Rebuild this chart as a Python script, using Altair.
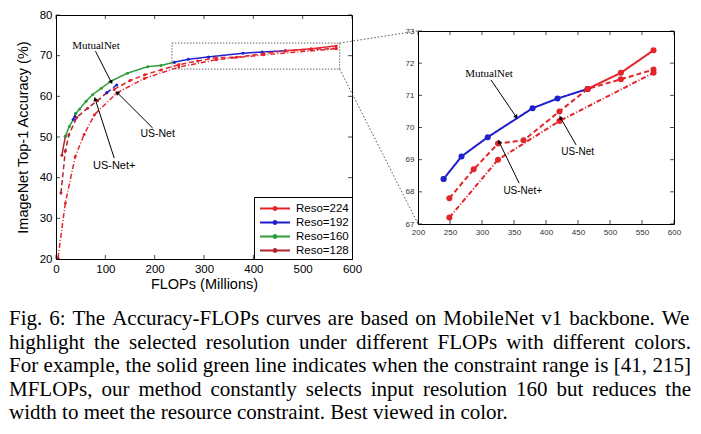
import altair as alt
import pandas as pd
import numpy as np

# ---------------- data ----------------
RESO_NAMES = ["Reso=224", "Reso=192", "Reso=160", "Reso=128"]
RESO_COLORS = ["#e3242b", "#1f1fcf", "#2e9c3a", "#b0262e"]
METHODS = ["MutualNet", "US-Net+", "US-Net"]

# MutualNet (solid), split into resolution segments
MN_RESO = [128, 160, 192, 160, 192, 224]
MN_FLOPS = [[12, 19], [19, 27, 35], [35, 38, 40],
            [40, 48, 61, 74, 92, 111, 145, 186, 213, 240],
            [240, 268, 309, 379, 418, 465], [465, 517, 568]]
MN_ACC = [[45.5, 50.2], [50.2, 52.6, 54.3], [54.3, 55.0, 55.8],
          [55.8, 56.9, 58.8, 60.4, 62.0, 63.7, 65.7, 67.3, 67.6, 68.4],
          [68.4, 69.1, 69.7, 70.6, 70.9, 71.2], [71.2, 71.7, 72.4]]

# US-Net+ (dashed)
USP_RESO = [128, 192, 224]
USP_FLOPS = [[10, 19, 26, 42, 64, 84, 103], [103, 123],
             [118, 150, 180, 213, 249, 287, 325, 365, 421, 465, 517, 568]]
USP_ACC = [[36.2, 46.6, 50.5, 54.8, 57.1, 58.9, 60.9], [60.9, 62.8],
           [61.7, 63.9, 65.3, 66.5, 67.8, 68.7, 69.5, 69.6, 70.5, 71.2, 71.5, 71.8]]

# US-Net (dash-dot)
US_RESO = [224]
US_FLOPS = [[4, 19, 39, 57, 78, 123, 179, 249, 325, 421, 568]]
US_ACC = [[20.3, 33.8, 45.2, 50.6, 55.5, 60.8, 64.4, 67.2, 69.0, 70.2, 71.7]]

LEFT_X_TICKS = [0, 100, 200, 300, 400, 500, 600]
LEFT_Y_TICKS = [20, 30, 40, 50, 60, 70, 80]
RIGHT_X_TICKS = [200, 250, 300, 350, 400, 450, 500, 550, 600]
RIGHT_Y_TICKS = [67, 68, 69, 70, 71, 72, 73]

# zoom box drawn on the left panel, and connector lines toward the right panel
BOX_X = [235]; BOX_X2 = [575]; BOX_Y = [66.7]; BOX_Y2 = [73.1]
CONN_X = [575, 575]; CONN_Y = [73.1, 66.7]; CONN_X2 = [734, 734]; CONN_Y2 = [76.1, 28.6]

# annotations: label, text position, arrow start, arrow end
LEFT_LABELS = ["MutualNet", "US-Net", "US-Net+"]
LEFT_LX = [81, 206, 118]; LEFT_LY = [72.4, 50.7, 42.8]
LEFT_AX = [80, 196, 118]; LEFT_AY = [71.1, 52.2, 44.8]
LEFT_AX2 = [111.5, 125, 79.7]; LEFT_AY2 = [63.6, 60.8, 59.2]

RIGHT_LABELS = ["MutualNet", "US-Net", "US-Net+"]
RIGHT_LX = [311, 449.5, 363.6]; RIGHT_LY = [71.66, 69.24, 68.03]
RIGHT_AX = [314, 447, 358]; RIGHT_AY = [71.48, 69.46, 68.27]
RIGHT_AX2 = [353, 423, 327]; RIGHT_AY2 = [70.34, 70.29, 69.54]
LABEL_FONTS = ["Liberation Serif", "Liberation Sans", "Liberation Sans"]

CAPTION = [
    "Fig. 6: The Accuracy-FLOPs curves are based on MobileNet v1 backbone. We",
    "highlight the selected resolution under different FLOPs with different colors.",
    "For example, the solid green line indicates when the constraint range is [41, 215]",
    "MFLOPs, our method constantly selects input resolution 160 but reduces the",
    "width to meet the resource constraint. Best viewed in color.",
]

# ---------------- tables ----------------
rows = []
for method, resos, fls, acs in [("MutualNet", MN_RESO, MN_FLOPS, MN_ACC),
                                ("US-Net+", USP_RESO, USP_FLOPS, USP_ACC),
                                ("US-Net", US_RESO, US_FLOPS, US_ACC)]:
    for i, (r, f, a) in enumerate(zip(resos, fls, acs)):
        for xv, yv in zip(f, a):
            rows.append(dict(method=method, seg=f"{method}-{i}", reso=f"Reso={r}",
                             flops=xv, acc=yv))
df = pd.DataFrame(rows)

W1, H1 = 296, 244
W2, H2 = 256, 193


def arrow_table(lab, lx, ly, ax, ay, ax2, ay2, dom_x, dom_y, w, h):
    sx = w / (dom_x[1] - dom_x[0])
    sy = h / (dom_y[1] - dom_y[0])
    t = pd.DataFrame(dict(label=lab, lx=lx, ly=ly, ax=ax, ay=ay, ax2=ax2, ay2=ay2,
                          font=LABEL_FONTS))
    dx = (t.ax2 - t.ax) * sx
    dy = -(t.ay2 - t.ay) * sy
    t["ang"] = np.degrees(np.arctan2(dx, -dy)) % 360
    return t


LEGEND_SYMBOL = "M-2,0H2M-0.2,0A0.2,0.2,0,1,1,0.2,0A0.2,0.2,0,1,1,-0.2,0"


def panel(data, dom_x, dom_y, xt, yt, w, h, xtitle, ytitle, lab_size, lab_color,
          line_w, pt_size, dashes, show_legend, ann, txt_sizes, tick_len, extra=None):
    xs = alt.Scale(domain=dom_x, nice=False, zero=False)
    ys = alt.Scale(domain=dom_y, nice=False, zero=False)
    xax = alt.Axis(values=xt, ticks=False, grid=False, domain=False, labelPadding=4,
                   labelFont="Liberation Sans", labelFontSize=lab_size, labelColor=lab_color,
                   title=xtitle, titleFont="Liberation Sans", titleFontSize=14.5,
                   titleFontWeight="normal", titlePadding=3, labelFlush=False,
                   labelOverlap=False)
    yax = alt.Axis(values=yt, ticks=False, grid=False, domain=False, labelPadding=4,
                   labelFont="Liberation Sans", labelFontSize=lab_size, labelColor=lab_color,
                   title=ytitle, titleFont="Liberation Sans", titleFontSize=14.5,
                   titleFontWeight="normal", titlePadding=9, labelFlush=False,
                   labelOverlap=False)

    def X(f):
        return alt.X(f, scale=xs, axis=xax, title=xtitle)

    def Y(f):
        return alt.Y(f, scale=ys, axis=yax, title=ytitle)

    color_scale = alt.Scale(domain=RESO_NAMES, range=RESO_COLORS)
    legend = alt.Legend(title=None, orient="bottom-right", offset=0,
                        symbolType=LEGEND_SYMBOL, symbolSize=225, symbolStrokeWidth=2,
                        symbolOffset=9.5, labelOffset=12.5,
                        labelFont="Liberation Sans", labelFontSize=11.5,
                        strokeColor="black", fillColor="white",
                        padding=3, rowPadding=0) if show_legend else None
    base = alt.Chart(data)
    lines = base.mark_line(strokeWidth=line_w).encode(
        x=X("flops:Q"), y=Y("acc:Q"),
        color=alt.Color("reso:N", scale=color_scale, legend=legend),
        strokeDash=alt.StrokeDash("method:N", scale=alt.Scale(domain=METHODS, range=dashes),
                                  legend=None),
        detail="seg:N",
    )
    pts = base.mark_circle(size=pt_size, opacity=1).encode(
        x=X("flops:Q"), y=Y("acc:Q"),
        color=alt.Color("reso:N", scale=color_scale, legend=legend),
    )
    tx = pd.DataFrame(dict(v=xt))
    ty = pd.DataFrame(dict(v=yt))
    tick_style = dict(color="black", thickness=1, size=tick_len)
    ticks = [
        alt.Chart(tx).mark_tick(orient="vertical", yOffset=-tick_len / 2, **tick_style)
        .encode(x=X("v:Q"), y=alt.YDatum(dom_y[0], scale=ys, axis=yax, title=ytitle)),
        alt.Chart(tx).mark_tick(orient="vertical", yOffset=tick_len / 2, **tick_style)
        .encode(x=X("v:Q"), y=alt.YDatum(dom_y[1], scale=ys, axis=yax, title=ytitle)),
        alt.Chart(ty).mark_tick(orient="horizontal", xOffset=tick_len / 2, **tick_style)
        .encode(y=Y("v:Q"), x=alt.XDatum(dom_x[0], scale=xs, axis=xax, title=xtitle)),
        alt.Chart(ty).mark_tick(orient="horizontal", xOffset=-tick_len / 2, **tick_style)
        .encode(y=Y("v:Q"), x=alt.XDatum(dom_x[1], scale=xs, axis=xax, title=xtitle)),
    ]
    arrows = alt.Chart(ann).mark_rule(color="black", strokeWidth=1).encode(
        x=X("ax:Q"), y=Y("ay:Q"), x2="ax2:Q", y2="ay2:Q")
    heads = alt.Chart(ann).mark_point(shape="triangle", filled=True, color="black",
                                      size=22, opacity=1).encode(
        x=X("ax2:Q"), y=Y("ay2:Q"), angle=alt.Angle("ang:Q", scale=None))
    texts = []
    for i in range(len(ann)):
        texts.append(alt.Chart(ann.iloc[[i]]).mark_text(
            font=ann.font.iloc[i], fontSize=txt_sizes[i], color="black",
            align="center", baseline="middle").encode(x=X("lx:Q"), y=Y("ly:Q"),
                                                      text="label:N"))
    layers = [lines, pts, arrows, heads] + texts + ticks
    if extra is not None:
        box_df, conn_df = extra
        layers.append(alt.Chart(box_df).mark_rect(
            fill="transparent", stroke="#666", strokeWidth=1, strokeDash=[1.5, 1.5]).encode(
            x=X("x:Q"), x2="x2:Q", y=Y("y:Q"), y2="y2:Q"))
        layers.append(alt.Chart(conn_df).mark_rule(
            clip=False, color="#555", strokeWidth=1, strokeDash=[1.5, 2]).encode(
            x=X("x:Q"), y=Y("y:Q"), x2="x2:Q", y2="y2:Q"))
    return layers


ann_left = arrow_table(LEFT_LABELS, LEFT_LX, LEFT_LY, LEFT_AX, LEFT_AY, LEFT_AX2, LEFT_AY2,
                       [0, 600], [20, 80], W1, H1)
ann_right = arrow_table(RIGHT_LABELS, RIGHT_LX, RIGHT_LY, RIGHT_AX, RIGHT_AY, RIGHT_AX2,
                        RIGHT_AY2, [200, 600], [67, 73], W2, H2)

box_df = pd.DataFrame(dict(x=BOX_X, x2=BOX_X2, y=BOX_Y, y2=BOX_Y2))
conn_df = pd.DataFrame(dict(x=CONN_X, y=CONN_Y, x2=CONN_X2, y2=CONN_Y2))

left_layers = panel(df, [0, 600], [20, 80], LEFT_X_TICKS, LEFT_Y_TICKS, W1, H1,
                    "FLOPs (Millions)", "ImageNet Top-1 Accuracy (%)", 11.5, "black",
                    1.5, 9, [[1, 0], [5, 3], [5, 2, 1, 2]], True, ann_left,
                    [11, 10.5, 11], 4, extra=(box_df, conn_df))

# ---------------- caption (justified with Times metrics) ----------------
TIMES_W = {" ": 250, ",": 250, ".": 250, ":": 278, "-": 333, "[": 333, "]": 333,
           "(": 333, ")": 333}
TIMES_W.update(dict(zip("0123456789", [500] * 10)))
TIMES_W.update(dict(zip("ABCDEFGHIJKLMNOPQRSTUVWXYZ",
                        [722, 667, 667, 722, 611, 556, 722, 722, 333, 389, 722, 611, 889,
                         722, 722, 556, 722, 667, 556, 611, 722, 722, 944, 722, 722, 611])))
TIMES_W.update(dict(zip("abcdefghijklmnopqrstuvwxyz",
                        [444, 500, 444, 500, 444, 333, 500, 500, 278, 278, 500, 278, 778,
                         500, 500, 500, 500, 333, 389, 278, 500, 500, 722, 500, 500, 444])))
CAP_FS = 21
CAP_LINE_W = 682
CAP_LEFT = 47           # caption starts this many px left of the left plot's origin
CAP_LINE_H = 23.5
CAP_FIRST = 310         # first baseline, px below the left plot's top edge

wrows = []
for li, line in enumerate(CAPTION):
    words = line.split(" ")
    ws = [sum(TIMES_W.get(c, 500) for c in wd) * CAP_FS / 1000 for wd in words]
    if li < len(CAPTION) - 1:
        gap = (CAP_LINE_W - sum(ws)) / (len(words) - 1)
    else:
        gap = 250 * CAP_FS / 1000
    xpos = 0.0
    for wd, wv in zip(words, ws):
        wrows.append(dict(line=li, word=wd, xpos=xpos))
        xpos += wv + gap
cap_df = pd.DataFrame(wrows)

caption = alt.Chart(cap_df).mark_text(
    font="Liberation Serif", fontSize=CAP_FS, align="left", baseline="alphabetic",
    color="black", clip=False).encode(
    x=alt.X("xpos:Q", axis=None,
            scale=alt.Scale(domain=[CAP_LEFT, CAP_LEFT + W1], nice=False, zero=False)),
    y=alt.Y("line:Q", axis=None,
            scale=alt.Scale(domain=[-CAP_FIRST / CAP_LINE_H, (H1 - CAP_FIRST) / CAP_LINE_H],
                            reverse=True, nice=False, zero=False)),
    text="word:N",
)

left_inner = alt.layer(*left_layers)
left = alt.layer(left_inner, caption).resolve_scale(
    x="independent", y="independent").properties(
    width=W1, height=H1, view=alt.ViewBackground(stroke="black", strokeWidth=1))

df_r = df[df.flops >= 235]
right_layers = panel(df_r, [200, 600], [67, 73], RIGHT_X_TICKS, RIGHT_Y_TICKS, W2, H2,
                     None, None, 8, "#333", 2, 36, [[1, 0], [7, 4], [7, 3, 2, 3]], False,
                     ann_right, [11, 10, 10], 4)
right = alt.layer(*right_layers).properties(
    width=W2, height=H2, view=alt.ViewBackground(stroke="black", strokeWidth=1))

spacer = alt.Chart(pd.DataFrame(dict(v=[0]))).mark_point(opacity=0).encode(
    x=alt.X("v:Q", axis=None), y=alt.Y("v:Q", axis=None)).properties(
    width=W2, height=16, view=alt.ViewBackground(stroke="transparent"))

right_col = alt.vconcat(spacer, right, spacing=0, bounds="flush")

chart = alt.hconcat(left, right_col, spacing=66, bounds="flush", padding=0).configure_view(
    stroke="transparent").resolve_scale(color="independent")

chart.save("out.html", embed_options={"renderer": "svg", "actions": False})
